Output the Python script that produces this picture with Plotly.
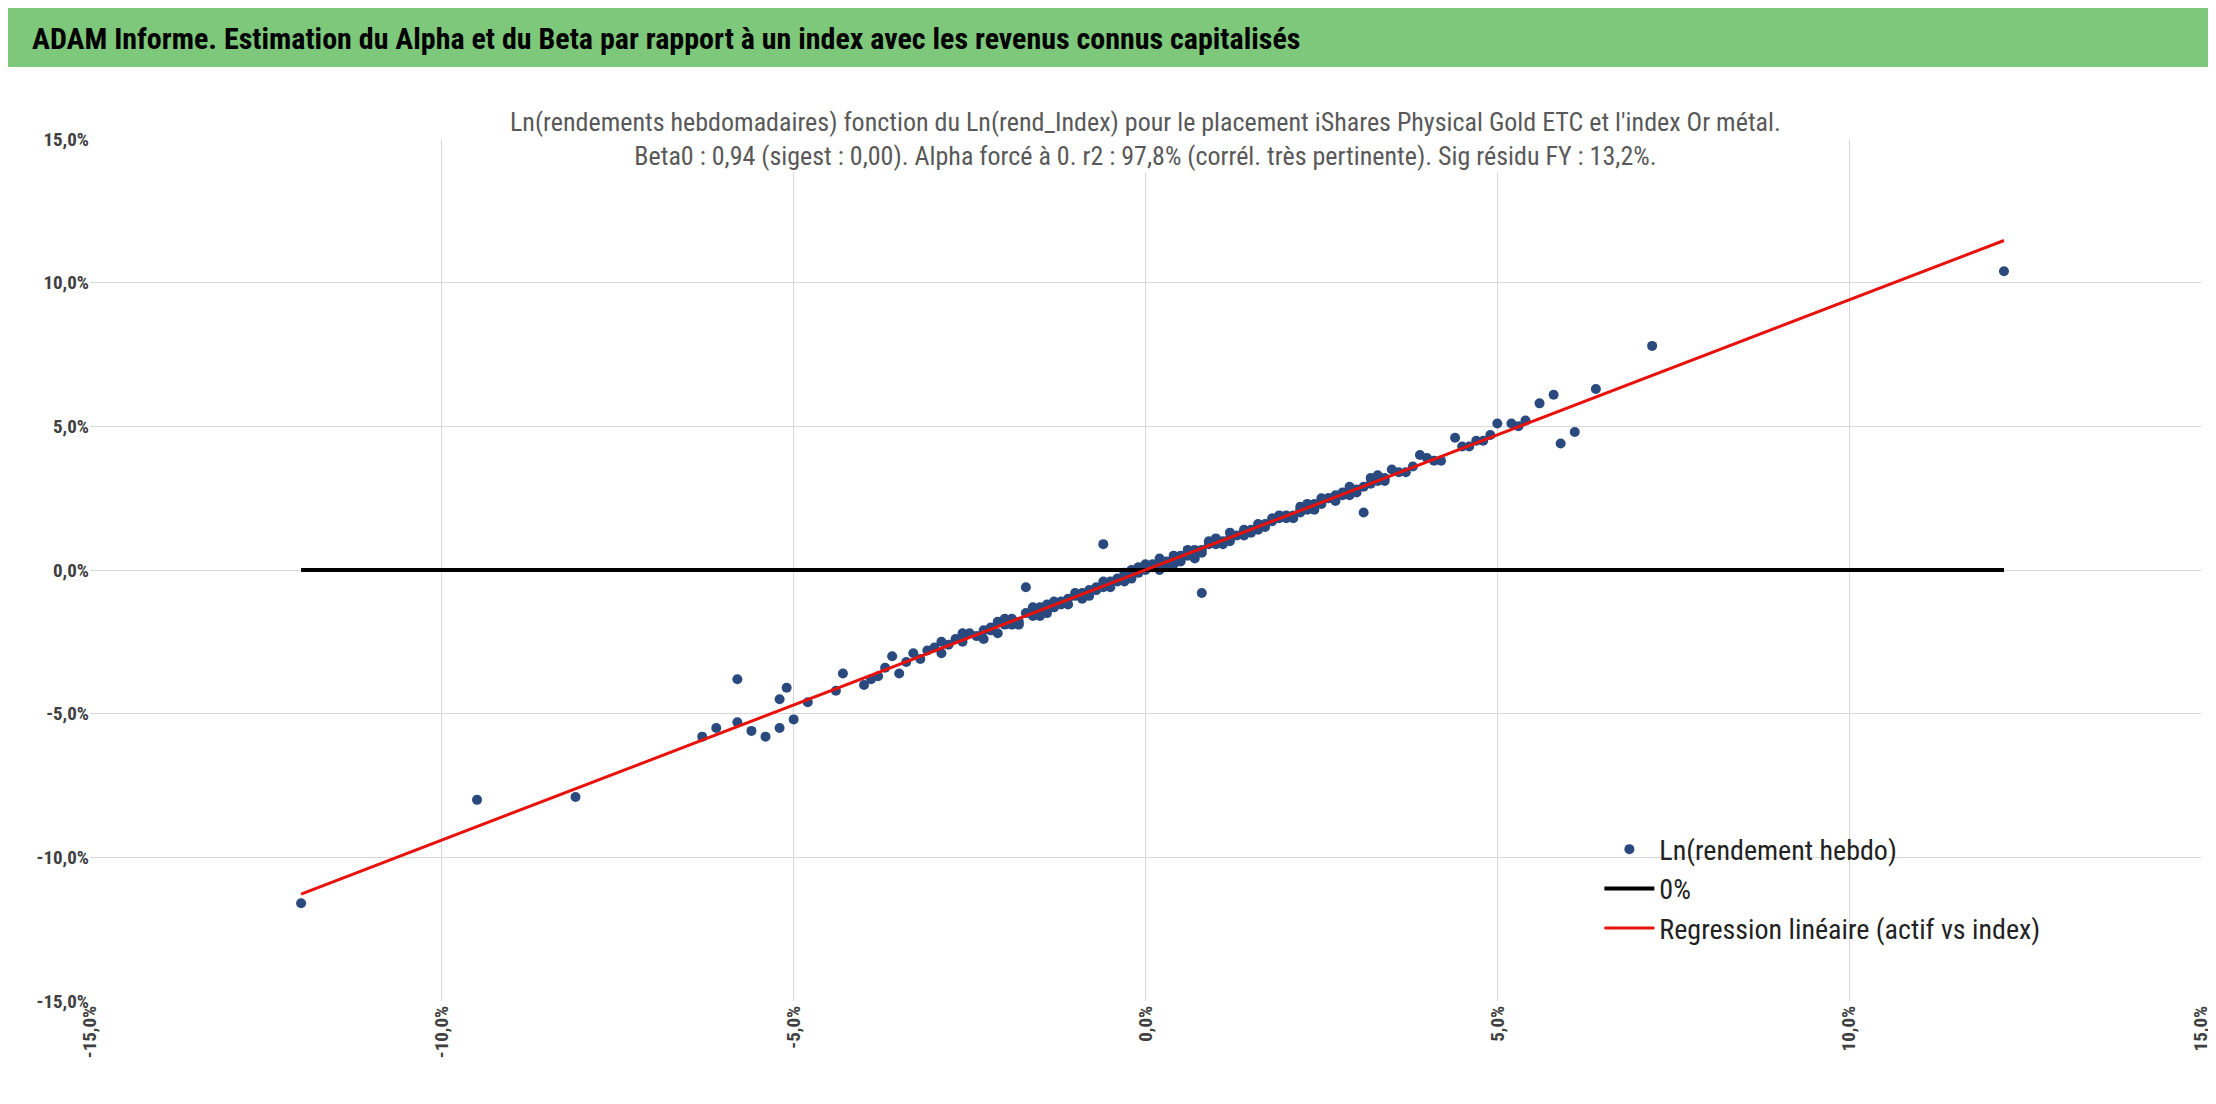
import plotly.graph_objects as go

# Ln(rend_Index) vs Ln(rendement hebdo), in %
idx_x = [-12.0, -9.5, -8.1, -6.3, -6.1, -5.8, -5.8, -5.6, -5.4, -5.2, -5.1, -5.2, -5.0, -4.8,
         -4.3, -4.0, -3.9, -3.8, -3.6, -3.5, -3.4, -3.2, -3.1, -3.0, -2.9, -2.8, -2.7, -2.6,
         -2.5, -2.4, -2.3, -2.2, -2.1, -2.0, -1.9, -1.8, -1.7, -1.7, -1.6, -1.5, -1.4, -1.3,
         -1.2, -1.1, -1.0, -0.9, -0.8, -0.7, -0.6, -0.6, -0.5, -0.4, -0.3, -0.2, -0.1, 0.0,
         0.1, 0.2, 0.3, 0.4, 0.5, 0.6, 0.7, 0.8, 0.8, 0.9, 1.0, 1.1, 1.2, 1.3, 1.4, 1.5,
         1.6, 1.7, 1.8, 1.9, 2.0, 2.1, 2.2, 2.3, 2.4, 2.5, 2.6, 2.7, 2.8, 2.9, 3.0, 3.1,
         3.1, 3.2, 3.3, 3.4, 3.6, 3.8, 3.9, 4.1, 4.4, 4.6, 4.8, 5.0, 5.3, 5.6, 5.8, 5.9,
         6.1, 6.4, 7.2, 12.2,
         -2.6, -2.2, -1.9, -1.5, -1.2, -0.9, -0.7, -0.4, -0.2, 0.1, 0.3, 0.5, 0.7, 1.0,
         1.2, 1.5, 1.8, 2.0, 2.3, 2.6, 2.8, 0.2, -0.3, 1.4, 2.2,
         -3.3, -2.9, -2.6, -2.3, -2.0, -1.8, -1.6, -1.4, -1.3, -1.1, -1.0, -0.8, -0.6, -0.5,
         -0.3, -0.1, 0.0, 0.2, 0.4, 0.5, 0.6, 0.8, 0.9, 1.1, 1.2, 1.4, 1.6, 1.7, 1.9, 2.1,
         2.2, 2.4, 2.5, 2.7, 2.9, 3.0, 3.2, 3.4, 3.5, 3.7, 4.0, 4.2, 4.5, 4.7, 5.2, -2.1,
         -1.5, -0.9, -0.2, 0.4, 1.0, 1.6, 2.3, 2.9, 3.3, -4.4, -3.7, 4.9, 5.4, 0.7]
asset_y = [-11.6, -8.0, -7.9, -5.8, -5.5, -3.8, -5.3, -5.6, -5.8, -4.5, -4.1, -5.5, -5.2, -4.6,
           -3.6, -4.0, -3.8, -3.7, -3.0, -3.6, -3.2, -3.1, -2.8, -2.7, -2.5, -2.6, -2.4, -2.5,
           -2.2, -2.3, -2.1, -2.0, -2.2, -1.9, -1.7, -1.8, -1.5, -0.6, -1.6, -1.4, -1.2, -1.3,
           -1.1, -1.0, -0.9, -0.9, -0.7, -0.6, -0.6, 0.9, -0.4, -0.4, -0.2, -0.2, -0.1, 0.0,
           0.1, 0.2, 0.3, 0.4, 0.5, 0.5, 0.7, 0.7, -0.8, 0.9, 0.9, 1.0, 1.1, 1.2, 1.3, 1.4,
           1.5, 1.6, 1.7, 1.8, 1.9, 1.9, 2.1, 2.2, 2.3, 2.3, 2.5, 2.6, 2.6, 2.7, 2.8, 2.9,
           2.0, 3.0, 3.1, 3.2, 3.4, 3.6, 4.0, 3.8, 4.6, 4.3, 4.5, 5.1, 5.0, 5.8, 6.1, 4.4,
           4.8, 6.3, 7.8, 10.4,
           -2.3, -2.1, -1.9, -1.3, -1.2, -0.8, -0.7, -0.3, -0.3, 0.2, 0.2, 0.4, 0.6, 1.0,
           1.0, 1.3, 1.8, 1.8, 2.1, 2.5, 2.7, 0.4, -0.1, 1.4, 2.0,
           -2.9, -2.9, -2.2, -2.4, -1.7, -1.9, -1.3, -1.5, -1.1, -1.2, -0.8, -0.9, -0.4, -0.6,
           -0.4, 0.1, 0.2, 0.0, 0.5, 0.3, 0.7, 0.6, 1.0, 0.9, 1.3, 1.2, 1.6, 1.5, 1.9, 1.8,
           2.2, 2.1, 2.5, 2.4, 2.9, 2.7, 3.2, 3.1, 3.5, 3.4, 3.9, 3.8, 4.3, 4.5, 5.1, -1.8,
           -1.6, -1.0, 0.0, 0.2, 1.1, 1.4, 2.3, 2.6, 3.3, -4.2, -3.4, 4.7, 5.2, 0.4]

beta = 0.94
reg_x = [-12.0, 12.2]
reg_y = [beta * v for v in reg_x]
zero_x = [-12.0, 12.2]
zero_y = [0, 0]

ticks = [-15, -10, -5, 0, 5, 10, 15]
tick_text = [f"<b>{t:.1f}%</b>".replace(".", ",") for t in ticks]

font = "Liberation Sans Narrow, Roboto Condensed, Roboto, sans-serif"

fig = go.Figure()
fig.add_trace(go.Scatter(x=idx_x, y=asset_y, mode="markers", name="Ln(rendement hebdo)",
                         marker=dict(color="#2a4a7f", size=10)))
fig.add_trace(go.Scatter(x=zero_x, y=zero_y, mode="lines", name="0%",
                         line=dict(color="black", width=4)))
fig.add_trace(go.Scatter(x=reg_x, y=reg_y, mode="lines", name="Regression linéaire (actif vs index)",
                         line=dict(color="#e8120c", width=3)))

fig.update_layout(
    width=2216, height=1104, paper_bgcolor="white", plot_bgcolor="white",
    margin=dict(l=82, r=23, t=131, b=111),
    font=dict(family=font, color="#404040", size=19),
    legend=dict(x=0.715, y=0.13, xanchor="left", yanchor="middle", font=dict(size=28, color="#222"),
                bgcolor="rgba(0,0,0,0)", tracegroupgap=30, itemwidth=50),
)
fig.add_shape(type="rect", xref="paper", yref="paper", x0=-82/2111, x1=1+23/2111,
              y0=1+(131-59)/862, y1=1+131/862, fillcolor="#7dc87a", line=dict(width=0), layer="below")
fig.add_annotation(xref="paper", yref="paper", x=-60/2111, y=1+(131-30)/862, xanchor="left",
                   yanchor="middle", showarrow=False,
                   text="<b>ADAM Informe. Estimation du Alpha et du Beta par rapport à un index avec les revenus connus capitalisés</b>",
                   font=dict(size=30, color="black"))
fig.add_annotation(xref="paper", yref="paper", x=0.5, y=1.0, yanchor="middle", showarrow=False,
                   bgcolor="white",
                   text="Ln(rendements hebdomadaires) fonction du Ln(rend_Index) pour le placement iShares Physical Gold ETC et l'index Or métal.<br>"
                        "Beta0 : 0,94 (sigest : 0,00). Alpha forcé à 0. r2 : 97,8% (corrél. très pertinente). Sig résidu FY : 13,2%.",
                   font=dict(size=26, color="#595959"))
fig.update_xaxes(range=[-15, 15], tickvals=ticks, ticktext=tick_text, tickangle=-90,
                 showgrid=True, gridcolor="#d9d9d9", zeroline=False, showline=False,
                 tickfont=dict(size=19))
fig.update_yaxes(range=[-15, 15], tickvals=ticks, ticktext=tick_text,
                 showgrid=True, gridcolor="#d9d9d9", zeroline=False, showline=False,
                 tickfont=dict(size=19))

fig.write_html("out.html")
